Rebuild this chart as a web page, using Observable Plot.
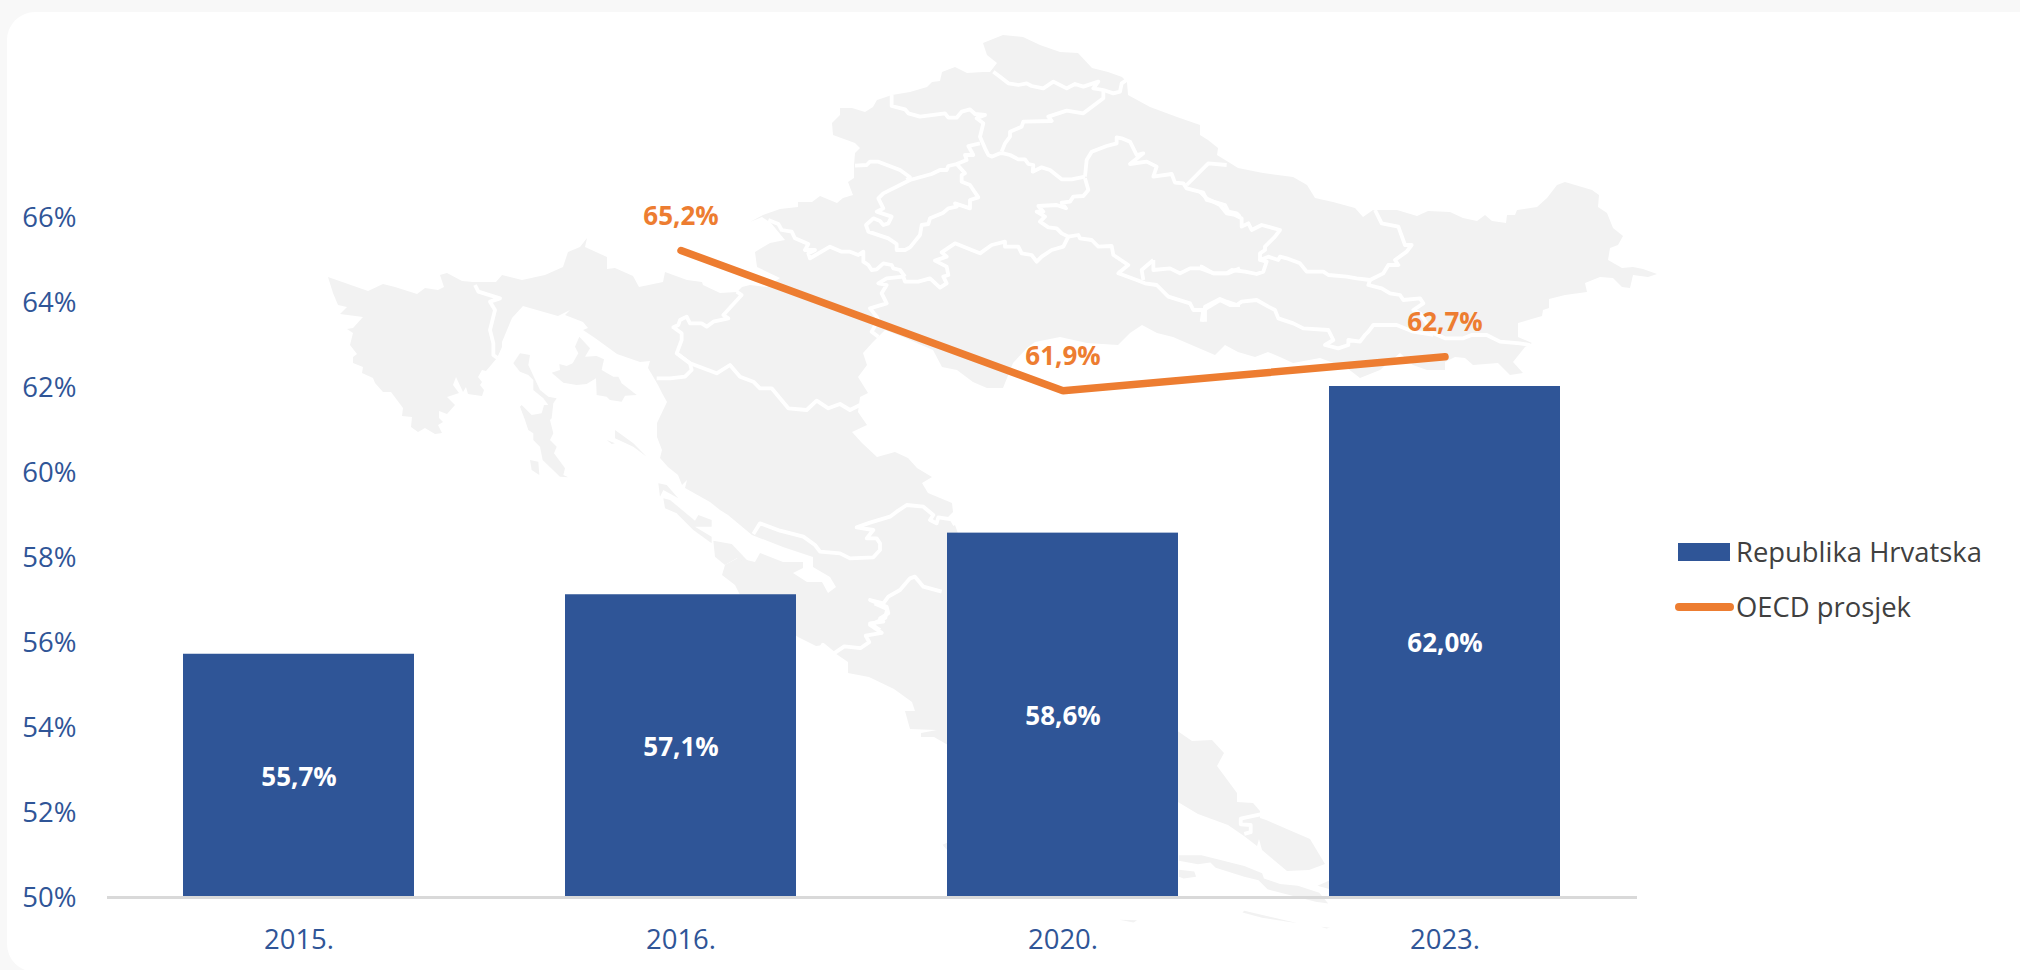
<!DOCTYPE html>
<html lang="hr">
<head>
<meta charset="utf-8">
<script src="https://cdn.jsdelivr.net/npm/d3@7"></script>
<script src="https://cdn.jsdelivr.net/npm/@observablehq/plot@0.6"></script>
<style>
html,body{margin:0;padding:0;width:2020px;height:970px;overflow:hidden;background:#f8f8f8;font-family:"Open Sans",sans-serif}
#card{position:absolute;left:7px;top:12px;width:2100px;height:960px;background:#fff;border-radius:28px}
#chart{position:absolute;left:0;top:0}
#chart svg{background:transparent}
.lg{position:absolute;left:1736px;font-size:27.4px;color:#404040;line-height:36px;height:36px;white-space:nowrap}
.sw{position:absolute}
</style>
</head>
<body>
<div id="card"></div>
<div id="chart"></div>
<div class="sw" style="left:1678px;top:543px;width:52px;height:18px;background:#2f5597"></div>
<div class="lg" style="top:534px">Republika Hrvatska</div>
<div class="sw" style="left:1675px;top:603px;width:59px;height:8px;border-radius:4px;background:#ed7d31"></div>
<div class="lg" style="top:589px">OECD prosjek</div>
<script>
// ---- chart values ----
const years = ["2015.", "2016.", "2020.", "2023."];
const hrvatska = [55.7, 57.1, 58.55, 62.0];
const hrvatskaLabels = ["55,7%", "57,1%", "58,6%", "62,0%"];
const oecd = [null, 65.2, 61.9, 62.7];
const oecdLabels = [null, "65,2%", "61,9%", "62,7%"];
const yTicks = [50, 52, 54, 56, 58, 60, 62, 64, 66];

// ---- decorative backdrop: hand-traced map of Croatia (page pixels) ----
const mapMain = [[328,277],[368,291],[383,284],[395,287],[417,294],[425,288],[438,290],[444,287],[440,275],[447,273],[462,281],[473,282],[496,282],[502,275],[522,280],[545,275],[563,267],[568,252],[580,247],[587,238],[585,247],[607,257],[607,269],[615,268],[633,276],[639,287],[663,282],[665,272],[687,280],[702,282],[703,285],[720,293],[737,292],[742,287],[750,285],[767,287],[780,278],[757,267],[755,252],[770,243],[785,240],[771,223],[762,217],[750,222],[763,215],[780,209],[798,207],[798,202],[812,202],[820,196],[837,203],[843,198],[853,195],[848,182],[854,178],[854,165],[855,153],[860,148],[855,143],[833,135],[832,123],[840,115],[840,108],[852,108],[865,112],[873,107],[877,100],[892,95],[910,92],[927,87],[932,82],[940,81],[942,72],[955,67],[967,73],[983,72],[990,72],[997,63],[987,55],[983,43],[1003,35],[1023,37],[1040,45],[1060,52],[1078,53],[1092,68],[1108,72],[1122,77],[1127,82],[1128,95],[1150,107],[1177,117],[1200,125],[1200,135],[1208,140],[1218,148],[1217,155],[1230,163],[1238,168],[1263,173],[1293,177],[1307,185],[1315,198],[1333,202],[1355,208],[1363,217],[1373,210],[1397,210],[1417,216],[1428,211],[1450,212],[1463,218],[1477,221],[1485,215],[1492,221],[1506,223],[1507,215],[1515,215],[1517,210],[1537,207],[1547,198],[1557,185],[1565,182],[1592,190],[1599,195],[1598,207],[1607,213],[1613,228],[1623,236],[1618,245],[1610,248],[1608,260],[1622,268],[1633,267],[1643,269],[1657,274],[1648,277],[1633,275],[1630,288],[1622,287],[1613,278],[1600,277],[1585,283],[1587,292],[1565,295],[1549,299],[1549,308],[1543,310],[1542,316],[1518,323],[1518,337],[1532,343],[1525,347],[1513,362],[1523,373],[1510,375],[1498,363],[1473,365],[1465,358],[1455,357],[1445,362],[1445,370],[1427,370],[1413,365],[1400,353],[1380,370],[1360,378],[1347,368],[1320,358],[1293,363],[1280,357],[1268,352],[1255,357],[1238,352],[1225,345],[1215,355],[1173,337],[1157,333],[1142,325],[1130,333],[1118,345],[1087,343],[1060,337],[1035,342],[1027,348],[1013,363],[1003,388],[987,388],[973,382],[957,370],[942,367],[933,350],[903,337],[885,330],[873,342],[863,353],[867,365],[858,377],[868,393],[860,397],[858,412],[867,425],[852,432],[862,443],[877,457],[895,452],[908,458],[917,468],[932,477],[922,483],[928,493],[952,503],[953,512],[947,518],[955,525],[962,545],[1170,725],[1179,732],[1192,741],[1212,740],[1224,753],[1217,766],[1237,793],[1237,802],[1253,803],[1260,811],[1260,818],[1266,820],[1310,839],[1325,864],[1309,870],[1287,871],[1275,861],[1262,850],[1259,839],[1257,846],[1244,836],[1228,825],[1198,814],[1178,802],[1000,760],[948,745],[934,737],[921,737],[921,733],[937,730],[910,729],[905,711],[915,711],[912,702],[894,689],[869,677],[848,673],[848,662],[823,645],[816,646],[798,637],[760,610],[740,595],[735,585],[722,575],[725,565],[738,558],[755,562],[760,553],[783,562],[803,562],[803,568],[793,573],[807,582],[822,582],[828,593],[836,587],[830,577],[813,567],[813,557],[783,547],[752,535],[728,515],[720,510],[710,502],[685,488],[687,480],[682,485],[678,475],[668,467],[660,458],[662,450],[657,437],[657,423],[667,402],[662,393],[658,385],[654,378],[648,368],[650,361],[640,362],[617,354],[595,338],[583,330],[588,328],[583,322],[565,315],[570,310],[558,316],[523,306],[512,318],[502,342],[502,347],[497,358],[486,371],[482,370],[478,377],[482,382],[480,385],[484,390],[482,396],[468,394],[466,387],[463,392],[456,377],[453,385],[459,393],[447,397],[455,405],[447,414],[439,411],[439,418],[443,422],[438,425],[442,433],[435,434],[425,428],[418,432],[411,427],[412,417],[402,416],[403,408],[391,392],[383,392],[375,383],[373,378],[362,373],[363,367],[353,363],[353,357],[357,354],[350,345],[353,333],[347,329],[353,328],[363,317],[340,314],[347,307],[338,305],[333,293]];

// islands, traced in crop coordinates: [originX, originY, crop scale, points]
const mapIslands = [
 [320,230,3,[[600,370],[630,375],[625,405],[660,480],[685,500],[710,505],[700,520],[695,565],[690,570],[700,610],[690,630],[710,650],[702,670],[735,715],[730,735],[745,742],[720,740],[668,690],[660,650],[640,630],[640,610],[625,600],[615,570],[600,530],[605,525],[635,555],[665,550],[672,525],[685,525],[670,505],[640,480],[640,450],[625,435],[600,425],[580,400]]],
 [320,230,3,[[695,428],[720,420],[718,402],[740,408],[758,400],[775,370],[765,350],[778,320],[810,355],[795,380],[830,378],[852,388],[845,420],[880,440],[895,440],[905,460],[950,495],[915,497],[905,515],[870,510],[860,500],[830,495],[828,445],[800,462],[770,465],[730,458]]],
 [320,230,3,[[630,690],[655,695],[658,735],[635,720]]],
 [320,230,3,[[885,600],[940,640],[980,680],[940,650],[885,625]]],
 [320,230,3,[[860,630],[885,640],[875,642]]],
 [320,230,3,[[1015,760],[1040,765],[1075,805],[1030,780],[1020,800]]],
 [640,330,3,[[70,505],[90,510],[165,572],[175,555],[215,570],[215,590],[165,590],[215,620],[215,640],[160,600],[110,550],[75,535]]],
 [640,330,3,[[220,632],[275,642],[335,705],[290,685],[255,705],[225,680]]],
 [780,600,2.8,[[1117,715],[1180,715],[1300,745],[1350,765],[1355,780],[1400,795],[1450,800],[1510,820],[1535,850],[1500,845],[1365,810],[1340,785],[1300,775],[1220,750],[1205,735],[1170,740],[1117,730]]],
 [780,600,2.8,[[1117,755],[1160,760],[1165,775],[1130,780],[1117,775]]],
 [780,600,2.8,[[1300,870],[1450,905],[1350,890],[1295,875]]],
 [780,600,2.8,[[1505,800],[1540,785],[1540,810]]],
 [780,600,2.8,[[1515,915],[1540,918],[1530,920]]],
 [780,600,2.8,[[950,895],[1000,897],[990,903]]],
 [780,600,2.8,[[455,685],[468,680],[468,700]]]
];

// county borders, also crop coordinates
const mapBorders = [
 [740,20,3,[[455,225],[455,258],[495,268],[505,280],[540,290],[615,280],[625,293],[650,293],[665,275],[690,268],[705,282],[735,285],[710,295],[730,310],[720,350],[735,385],[745,405],[755,410],[780,400],[790,400],[810,405],[835,418],[855,418],[865,432],[880,435],[878,455],[905,442],[930,450],[965,478],[995,478],[1035,470]]],
 [740,20,3,[[760,155],[780,170],[805,190],[835,195],[860,190],[875,198],[910,205],[940,185],[980,205],[1005,192],[1030,200],[1075,185],[1060,205],[1090,210],[1120,220],[1140,215],[1145,190],[1160,180]]],
 [740,20,3,[[1090,210],[1090,235],[1030,280],[980,272],[925,290],[935,303],[850,305],[845,320],[810,335],[810,350],[795,370],[785,395]]],
 [740,20,3,[[1035,470],[1040,420],[1055,395],[1100,378],[1130,370],[1130,352],[1145,355],[1170,365],[1190,405],[1210,400],[1170,432],[1220,425],[1250,440],[1240,470],[1295,462],[1305,488],[1330,490],[1340,505],[1390,518],[1400,540],[1420,545],[1455,555],[1465,575],[1490,580],[1500,590]]],
 [740,20,3,[[1340,495],[1405,430],[1460,435]]],
 [740,20,3,[[1035,475],[1045,510],[1030,528],[1000,530],[990,545],[965,548],[978,565],[950,555],[895,558],[910,575],[890,575],[915,590],[900,605],[925,622],[950,625],[965,640],[985,650],[970,680],[935,690],[905,710],[890,725],[875,705],[845,700],[835,680],[795,680],[795,665],[755,675],[720,700],[695,690],[645,670],[605,697],[620,710],[585,722],[620,740],[625,765],[610,770],[620,790],[600,803],[570,775],[535,785],[495,785],[490,770],[440,775],[415,790],[440,795],[425,820],[440,850],[390,865],[410,890],[415,900],[395,935],[415,950]]],
 [740,20,3,[[985,650],[1015,645],[1020,655],[1055,660],[1075,680],[1115,678],[1120,705],[1165,735],[1140,755],[1135,760],[1190,780],[1215,790],[1250,795],[1285,830],[1350,850],[1360,870],[1390,870],[1440,840],[1470,855],[1500,855]]],
 [740,20,3,[[1240,720],[1205,750],[1210,780]]],
 [740,20,3,[[1240,720],[1240,750],[1290,745],[1320,760],[1350,745],[1380,745],[1420,760],[1465,760],[1500,745]]],
 [740,20,3,[[1390,870],[1385,905]]],
 [740,20,3,[[345,437],[380,435],[390,425],[415,425],[480,450],[510,472],[500,480]]],
 [740,20,3,[[720,370],[685,378],[700,405],[675,405],[680,420],[650,432],[625,438],[620,450],[600,450],[575,462],[510,480],[430,520],[415,535],[430,565],[410,575],[455,590],[445,610],[430,615],[420,603],[400,595],[378,615],[385,635],[445,655],[470,672],[470,690],[495,690],[510,682],[540,645],[545,615],[565,612],[570,595],[610,578],[625,565],[650,560],[645,550],[690,565],[690,540],[715,532],[690,495],[665,485],[665,465],[675,460],[650,432]]],
 [740,20,3,[[85,600],[115,612],[125,630],[155,635],[165,655],[205,672],[195,690],[225,690],[205,700],[210,715],[270,680],[305,695],[330,695],[355,705],[370,695],[370,725],[385,735],[395,750],[410,748],[430,730],[455,735],[460,745],[480,750],[495,770]]],
 [320,230,3,[[465,165],[475,185],[540,205],[510,215],[525,240],[510,300],[520,340],[520,375],[533,385]]],
 [320,230,3,[[1250,185],[1265,195],[1210,255],[1225,265],[1180,275],[1160,290],[1145,280],[1110,280],[1100,260],[1080,270],[1075,285],[1060,292],[1085,310],[1085,330],[1070,370],[1110,400],[1115,420],[1095,440],[1050,445],[1010,445]]],
 [640,330,3,[[110,70],[150,100],[190,115],[230,130],[270,105],[300,140],[340,155],[360,175],[395,175],[445,235],[500,240],[530,212],[565,235],[600,222],[630,240],[660,225]]],
 [640,330,3,[[340,612],[360,580],[420,602],[490,620],[525,645],[540,665],[600,670],[630,685],[700,682],[720,660],[720,640],[710,625],[680,625],[700,600],[650,592],[690,578],[750,560],[770,545],[800,525],[850,530],[880,555],[870,570],[890,580],[895,562],[935,568],[945,585]]],
 [640,330,3,[[905,785],[850,770],[825,740],[810,745],[780,780],[745,800],[730,820],[690,810],[740,830],[745,850],[720,865],[730,875],[690,880],[720,900]]],
 [780,600,2.8,[[265,10],[300,25],[295,50],[252,70],[285,92],[240,100],[250,118],[225,135],[180,130],[150,150],[120,125],[110,145]]],
 [780,600,2.8,[[1345,600],[1290,612],[1290,628],[1318,630],[1318,650],[1300,655]]],
 [1200,150,3,[[525,180],[545,220],[595,230],[615,285],[635,285],[620,305],[585,330],[595,345],[565,345],[550,370],[510,390],[470,385],[440,380],[385,375],[370,365],[320,365],[300,340],[260,325],[240,320],[235,330],[205,320],[180,330],[200,335],[190,365],[170,372],[135,365],[95,360],[80,370],[40,370],[5,350],[0,350]]],
 [1200,150,3,[[510,390],[505,405],[545,415],[570,430],[600,435],[610,450],[660,445],[670,460],[640,480],[660,490],[700,550],[735,565],[790,565],[815,555],[860,555],[900,575],[960,580],[990,585]]],
 [1200,150,3,[[700,555],[640,545],[590,525],[520,525],[505,545],[495,555],[480,575],[445,570],[445,585],[415,595],[375,585],[400,570],[385,540],[310,535],[280,520],[235,505],[225,480],[205,470],[170,450],[125,455],[110,465],[80,455],[60,447],[15,470],[15,515]]],
 [1200,150,3,[[0,125],[20,145],[60,165],[80,190],[105,195],[125,205],[125,230],[145,220],[155,240],[185,225],[240,240],[225,260],[195,290],[195,300],[180,310],[180,330]]]
];

function mapBackdrop() {
  const g = d3.create("svg:g");
  const toPage = ([ox, oy, k, pts]) => pts.map(([x, y]) => [ox + x / k, oy + y / k]);
  const line = d3.line();
  g.append("path").attr("d", line(mapMain) + "Z").attr("fill", "#f2f2f2");
  for (const isl of mapIslands) g.append("path").attr("d", line(toPage(isl)) + "Z").attr("fill", "#f2f2f2");
  for (const b of mapBorders) g.append("path").attr("d", line(toPage(b)))
    .attr("fill", "none").attr("stroke", "#fff").attr("stroke-width", 3.8).attr("stroke-linejoin", "round");
  return g.node();
}

const barRows = years.map((year, i) => ({year, value: hrvatska[i], label: hrvatskaLabels[i]}));
const lineRows = years.map((year, i) => ({year, value: oecd[i], label: oecdLabels[i]})).filter(d => d.value != null);
const blue = "#2f5597", orange = "#ed7d31";

const plot = Plot.plot({
  width: 2020,
  height: 970,
  marginLeft: 107,
  marginRight: 383,
  marginTop: 46,
  marginBottom: 74,
  style: {background: "transparent", fontFamily: "'Open Sans', sans-serif", overflow: "visible"},
  x: {domain: years, padding: 0.394, paddingOuter: 0.197, align: 0.5, label: null},
  y: {domain: [50, 70], label: null},
  marks: [
    mapBackdrop,
    Plot.barY(barRows, {x: "year", y1: 50, y2: "value", fill: blue}),
    Plot.ruleY([50], {stroke: "#d9d9d9", strokeWidth: 3, dy: 1}),
    Plot.axisY({ticks: yTicks, tickSize: 0, tickPadding: 31, tickFormat: d => d + "%", fontSize: 27.5, fill: blue, label: null, dy: 2}),
    Plot.axisX({tickSize: 0, tickPadding: 33, fontSize: 27.5, fill: blue, label: null}),
    Plot.text(barRows, {x: "year", y: d => (50 + d.value) / 2, text: "label", fill: "#fff", fontWeight: 700, fontSize: 26, dy: 2}),
    Plot.line(lineRows, {x: "year", y: "value", stroke: orange, strokeWidth: 7.5, strokeLinecap: "round", strokeLinejoin: "miter"}),
    Plot.text(lineRows, {x: "year", y: "value", text: "label", fill: orange, fontWeight: 700, fontSize: 26, dy: -34})
  ]
});
document.getElementById("chart").append(plot);
</script>
</body>
</html>
